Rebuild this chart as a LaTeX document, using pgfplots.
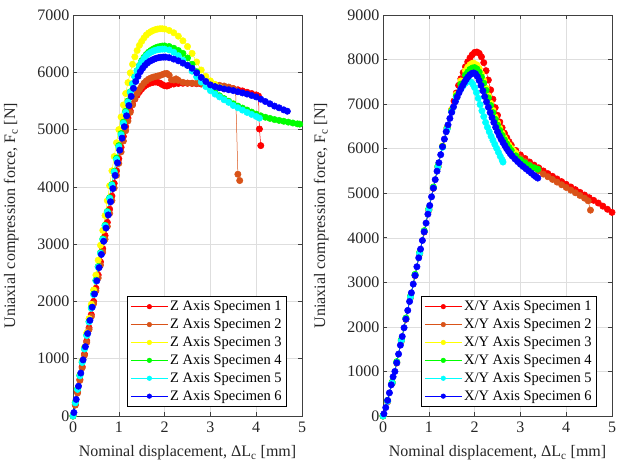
\documentclass[border=0pt]{standalone}
\usepackage{pgfplots}
\pgfplotsset{compat=1.18}
\usepackage{fontspec}
\setmainfont{Liberation Serif}
\definecolor{c1}{rgb}{1,0,0}
\definecolor{c2}{rgb}{0.85,0.325,0.098}
\definecolor{c3}{rgb}{1,1,0}
\definecolor{c4}{rgb}{0,1,0}
\definecolor{c5}{rgb}{0,1,1}
\definecolor{c6}{rgb}{0,0,1}
\definecolor{axcol}{rgb}{0.25,0.25,0.25}
\definecolor{gridcol}{rgb}{0.87,0.87,0.87}
\newcommand{\labfont}{\fontsize{16}{19}\selectfont}
\pgfplotsset{
  myaxis/.style={
    scale only axis, width=229pt, height=401pt,
    xmin=0, xmax=5, ymin=0,
    xtick={0,1,2,3,4,5},
    grid=major, major grid style={gridcol, line width=0.5pt},
    axis line style={axcol, line width=0.6pt},
    tick style={axcol, line width=0.6pt},
    tick align=inside, tick pos=both, major tick length=4pt,
    /pgf/number format/assume math mode=true,
    /pgf/number format/1000 sep={},
    ticklabel style={font=\fontsize{16}{19}\selectfont, text=black!85},
    xticklabel style={yshift=-2pt},
    xlabel={\labfont Nominal displacement, ΔL\textsubscript{c} [mm]},
    ylabel={\labfont Uniaxial compression force, F\textsubscript{c} [N]},
    x label style={at={(axis description cs:0.5,-0.102)}, anchor=base, font=\labfont, text=black!85},
    y label style={at={(axis description cs:-0.27,0.5)}, rotate=0, anchor=center, font=\labfont, text=black!85},
    legend style={at={(axis description cs:0.9345,0.0224)}, anchor=south east,
      draw=black, line width=0.6pt, fill=white, font=\fontsize{14.5}{17}\selectfont,
      inner sep=3pt, row sep=2.8pt},
    legend cell align=left,
    legend image code/.code={\draw[mark repeat=2,mark phase=2,mark size=2.3pt] plot coordinates {(0cm,0cm) (0.65cm,0cm) (1.3cm,0cm)};},
  },
  s1/.style={color=c1, line width=0.5pt, mark=*, mark size=3.2pt, mark options={solid, fill=c1, draw=c1}},
  s2/.style={color=c2, line width=0.5pt, mark=*, mark size=3.2pt, mark options={solid, fill=c2, draw=c2}},
  s3/.style={color=c3, line width=0.5pt, mark=*, mark size=3.2pt, mark options={solid, fill=c3, draw=c3}},
  s4/.style={color=c4, line width=0.5pt, mark=*, mark size=3.2pt, mark options={solid, fill=c4, draw=c4}},
  s5/.style={color=c5, line width=0.5pt, mark=*, mark size=3.2pt, mark options={solid, fill=c5, draw=c5}},
  s6/.style={color=c6, line width=0.5pt, mark=*, mark size=3.2pt, mark options={solid, fill=c6, draw=c6}},
}
\begin{document}
\begin{tikzpicture}
\useasboundingbox (0pt,0pt) rectangle (620pt,468pt);
% ---------------- Left panel: Z axis ----------------
\begin{axis}[myaxis, at={(73pt,52pt)}, anchor=south west, ymax=7000, ytick={0,1000,2000,3000,4000,5000,6000,7000}]
\addplot[s1] coordinates {(0,0) (0.05,200) (0.1,420) (0.15,640) (0.2,860) (0.25,1080) (0.3,1310) (0.35,1540) (0.4,1770) (0.45,2000) (0.5,2230) (0.55,2460) (0.6,2690) (0.65,2920) (0.7,3150) (0.75,3380) (0.8,3610) (0.85,3840) (0.9,4060) (0.95,4280) (1.0,4490) (1.05,4690) (1.1,4880) (1.15,5050) (1.2,5200) (1.25,5330) (1.3,5440) (1.35,5530) (1.4,5600) (1.45,5660) (1.5,5710) (1.55,5750) (1.6,5780) (1.65,5800) (1.7,5815) (1.75,5825) (1.8,5830) (1.85,5825) (1.9,5810) (1.95,5785) (2.0,5765) (2.05,5760) (2.1,5775) (2.2,5795) (2.3,5805) (2.4,5808) (2.5,5808) (2.6,5805) (2.7,5800) (2.8,5795) (2.9,5788) (3.0,5780) (3.1,5768) (3.2,5755) (3.3,5742) (3.4,5730) (3.5,5715) (3.6,5695) (3.7,5675) (3.8,5652) (3.9,5630) (4.0,5605) (4.05,5585) (4.07,5010) (4.1,4720)};
\addlegendentry{Z Axis Specimen 1}
\addplot[s2] coordinates {(0,0) (0.05,190) (0.1,400) (0.15,620) (0.2,840) (0.25,1060) (0.3,1285) (0.35,1510) (0.4,1735) (0.45,1960) (0.5,2185) (0.55,2410) (0.6,2635) (0.65,2860) (0.7,3085) (0.75,3310) (0.8,3535) (0.85,3760) (0.9,3980) (0.95,4200) (1.0,4410) (1.05,4610) (1.1,4800) (1.15,4980) (1.2,5150) (1.25,5300) (1.3,5430) (1.35,5540) (1.4,5630) (1.45,5700) (1.5,5760) (1.55,5810) (1.6,5850) (1.65,5880) (1.7,5900) (1.75,5915) (1.8,5925) (1.85,5935) (1.9,5945) (1.95,5960) (2.0,5975) (2.05,5980) (2.1,5950) (2.15,5870) (2.2,5865) (2.25,5885) (2.3,5860) (2.4,5825) (2.5,5812) (2.6,5810) (2.7,5808) (2.8,5804) (2.9,5798) (3.0,5790) (3.1,5782) (3.2,5772) (3.3,5760) (3.4,5742) (3.5,5715) (3.55,5690) (3.6,4220) (3.64,4110)};
\addlegendentry{Z Axis Specimen 2}
\addplot[s3] coordinates {(0,0) (0.05,240) (0.1,480) (0.15,720) (0.2,960) (0.25,1200) (0.3,1450) (0.35,1700) (0.4,1950) (0.45,2200) (0.5,2460) (0.55,2720) (0.6,2980) (0.65,3240) (0.7,3500) (0.75,3760) (0.8,4020) (0.85,4280) (0.9,4530) (0.95,4770) (1.0,5000) (1.05,5220) (1.1,5430) (1.15,5630) (1.2,5820) (1.25,5990) (1.3,6140) (1.35,6270) (1.4,6380) (1.45,6470) (1.5,6540) (1.55,6600) (1.6,6650) (1.65,6685) (1.7,6710) (1.75,6730) (1.8,6745) (1.85,6755) (1.9,6760) (1.95,6760) (2.0,6755) (2.1,6730) (2.2,6690) (2.3,6630) (2.4,6550) (2.5,6450) (2.6,6330) (2.7,6180) (2.8,6040) (2.9,5930) (3.0,5850) (3.1,5790) (3.2,5740) (3.3,5710)};
\addlegendentry{Z Axis Specimen 3}
\addplot[s4] coordinates {(0,0) (0.05,235) (0.1,470) (0.15,705) (0.2,940) (0.25,1175) (0.3,1410) (0.35,1650) (0.4,1890) (0.45,2130) (0.5,2370) (0.55,2610) (0.6,2850) (0.65,3090) (0.7,3330) (0.75,3570) (0.8,3810) (0.85,4040) (0.9,4270) (0.95,4500) (1.0,4720) (1.05,4930) (1.1,5130) (1.15,5320) (1.2,5500) (1.25,5660) (1.3,5800) (1.35,5920) (1.4,6030) (1.45,6120) (1.5,6200) (1.55,6260) (1.6,6310) (1.65,6350) (1.7,6380) (1.75,6405) (1.8,6425) (1.85,6440) (1.9,6450) (1.95,6458) (2.0,6460) (2.1,6450) (2.2,6420) (2.3,6380) (2.4,6330) (2.5,6250) (2.6,6140) (2.7,6010) (2.8,5900) (2.9,5800) (3.0,5720) (3.1,5650) (3.2,5590) (3.3,5540) (3.4,5495) (3.5,5450) (3.6,5410) (3.7,5375) (3.8,5340) (3.9,5305) (4.0,5270) (4.1,5240) (4.2,5215) (4.3,5195) (4.4,5175) (4.5,5160) (4.6,5145) (4.7,5130) (4.8,5115) (4.9,5100) (4.95,5095)};
\addlegendentry{Z Axis Specimen 4}
\addplot[s5] coordinates {(0,0) (0.05,230) (0.1,465) (0.15,700) (0.2,935) (0.25,1170) (0.3,1405) (0.35,1640) (0.4,1880) (0.45,2120) (0.5,2360) (0.55,2600) (0.6,2840) (0.65,3080) (0.7,3320) (0.75,3560) (0.8,3800) (0.85,4030) (0.9,4260) (0.95,4480) (1.0,4700) (1.05,4910) (1.1,5110) (1.15,5300) (1.2,5480) (1.25,5650) (1.3,5800) (1.35,5920) (1.4,6020) (1.45,6110) (1.5,6180) (1.55,6240) (1.6,6290) (1.65,6325) (1.7,6350) (1.75,6370) (1.8,6385) (1.85,6395) (1.9,6402) (1.95,6405) (2.0,6405) (2.1,6390) (2.2,6350) (2.3,6290) (2.4,6210) (2.5,6120) (2.6,6020) (2.7,5920) (2.8,5830) (2.9,5750) (3.0,5680) (3.1,5620) (3.2,5570) (3.3,5520) (3.4,5475) (3.5,5420) (3.6,5380) (3.7,5340) (3.8,5300) (3.9,5265) (4.0,5230) (4.07,5200)};
\addlegendentry{Z Axis Specimen 5}
\addplot[s6] coordinates {(0.02,60) (0.07,290) (0.12,520) (0.17,750) (0.22,980) (0.27,1210) (0.32,1440) (0.37,1670) (0.42,1900) (0.47,2130) (0.52,2360) (0.57,2590) (0.62,2820) (0.67,3050) (0.72,3280) (0.77,3510) (0.82,3740) (0.87,3970) (0.92,4200) (0.97,4420) (1.02,4640) (1.07,4850) (1.12,5050) (1.17,5240) (1.22,5420) (1.27,5580) (1.32,5720) (1.37,5840) (1.42,5930) (1.47,6010) (1.52,6070) (1.57,6120) (1.62,6160) (1.67,6190) (1.72,6210) (1.77,6230) (1.82,6245) (1.87,6255) (1.92,6262) (1.97,6265) (2.02,6265) (2.1,6255) (2.2,6230) (2.3,6200) (2.4,6160) (2.5,6120) (2.6,6070) (2.7,5990) (2.8,5910) (2.9,5840) (3.0,5780) (3.1,5750) (3.2,5730) (3.3,5710) (3.4,5695) (3.5,5680) (3.6,5660) (3.7,5640) (3.8,5620) (3.9,5595) (4.0,5570) (4.1,5530) (4.2,5490) (4.3,5450) (4.4,5410) (4.5,5380) (4.6,5345) (4.68,5320)};
\addlegendentry{Z Axis Specimen 6}
\end{axis}
% ---------------- Right panel: X/Y axis ----------------
\begin{axis}[myaxis, at={(383pt,52pt)}, anchor=south west, ymax=9000, ytick={0,1000,2000,3000,4000,5000,6000,7000,8000,9000}]
\addplot[s1] coordinates {(0,0) (0.1,320) (0.2,730) (0.3,1190) (0.4,1680) (0.5,2170) (0.6,2660) (0.7,3150) (0.8,3640) (0.9,4130) (1.0,4620) (1.1,5110) (1.2,5590) (1.3,6050) (1.4,6480) (1.5,6880) (1.55,7070) (1.6,7250) (1.65,7420) (1.7,7570) (1.75,7710) (1.8,7840) (1.85,7950) (1.9,8040) (1.95,8110) (2.0,8160) (2.05,8170) (2.1,8140) (2.15,8060) (2.2,7930) (2.25,7750) (2.3,7540) (2.35,7320) (2.4,7110) (2.45,6920) (2.5,6750) (2.55,6600) (2.6,6470) (2.65,6350) (2.7,6250) (2.75,6160) (2.8,6080) (2.9,5960) (3.0,5860) (3.1,5780) (3.2,5700) (3.3,5630) (3.4,5570) (3.5,5500) (3.6,5440) (3.7,5380) (3.8,5320) (3.9,5260) (4.0,5200) (4.1,5140) (4.2,5080) (4.3,5020) (4.4,4960) (4.5,4900) (4.6,4840) (4.7,4780) (4.8,4710) (4.9,4640) (5.0,4570)};
\addlegendentry{X/Y Axis Specimen 1}
\addplot[s2] coordinates {(0,0) (0.1,330) (0.2,740) (0.3,1200) (0.4,1690) (0.5,2180) (0.6,2670) (0.7,3160) (0.8,3650) (0.9,4140) (1.0,4630) (1.1,5120) (1.2,5590) (1.3,6040) (1.4,6450) (1.5,6840) (1.6,7170) (1.7,7450) (1.8,7670) (1.9,7810) (1.95,7850) (2.0,7860) (2.1,7700) (2.2,7400) (2.3,7050) (2.4,6750) (2.5,6480) (2.6,6280) (2.7,6120) (2.8,5990) (2.9,5880) (3.0,5790) (3.1,5710) (3.2,5640) (3.3,5570) (3.4,5500) (3.5,5430) (3.6,5370) (3.7,5310) (3.8,5250) (3.9,5190) (4.0,5130) (4.1,5070) (4.2,5010) (4.3,4950) (4.4,4890) (4.48,4830) (4.53,4620)};
\addlegendentry{X/Y Axis Specimen 2}
\addplot[s3] coordinates {(0,0) (0.1,340) (0.2,750) (0.3,1210) (0.4,1700) (0.5,2190) (0.6,2680) (0.7,3170) (0.8,3660) (0.9,4150) (1.0,4640) (1.1,5130) (1.2,5610) (1.3,6060) (1.4,6470) (1.5,6870) (1.6,7220) (1.7,7520) (1.8,7750) (1.85,7830) (1.9,7885) (1.95,7915) (1.98,7920) (2.05,7880) (2.1,7800) (2.15,7680) (2.2,7530) (2.25,7360) (2.3,7190) (2.35,7020) (2.4,6860) (2.45,6710) (2.5,6580) (2.55,6460) (2.6,6350) (2.65,6250) (2.7,6160) (2.75,6080) (2.8,6010) (2.85,5950) (2.9,5900)};
\addlegendentry{X/Y Axis Specimen 3}
\addplot[s4] coordinates {(0,0) (0.1,350) (0.2,760) (0.3,1220) (0.4,1710) (0.5,2200) (0.6,2690) (0.7,3180) (0.8,3670) (0.9,4160) (1.0,4650) (1.1,5140) (1.2,5610) (1.3,6050) (1.4,6460) (1.5,6850) (1.6,7180) (1.7,7450) (1.8,7650) (1.85,7720) (1.9,7780) (1.95,7810) (2.0,7820) (2.05,7790) (2.1,7720) (2.15,7610) (2.2,7470) (2.25,7310) (2.3,7140) (2.35,6970) (2.4,6810) (2.45,6660) (2.5,6530) (2.55,6410) (2.6,6300) (2.65,6200) (2.7,6110) (2.75,6030) (2.8,5960) (2.9,5840) (3.0,5750) (3.1,5680) (3.2,5620) (3.3,5570) (3.38,5540)};
\addlegendentry{X/Y Axis Specimen 4}
\addplot[s5] coordinates {(0,0) (0.1,330) (0.2,740) (0.3,1200) (0.4,1690) (0.5,2180) (0.6,2670) (0.7,3160) (0.8,3650) (0.9,4140) (1.0,4630) (1.1,5120) (1.2,5590) (1.3,6030) (1.4,6440) (1.5,6830) (1.6,7130) (1.7,7340) (1.75,7410) (1.8,7470) (1.87,7520) (1.92,7500) (1.96,7450) (2.0,7370) (2.04,7260) (2.08,7130) (2.12,6990) (2.16,6850) (2.2,6720) (2.24,6590) (2.28,6480) (2.32,6380) (2.36,6280) (2.4,6190) (2.44,6100) (2.48,6010) (2.52,5920) (2.56,5830) (2.6,5750) (2.62,5700)};
\addlegendentry{X/Y Axis Specimen 5}
\addplot[s6] coordinates {(0.02,50) (0.06,190) (0.1,350) (0.14,520) (0.18,700) (0.22,880) (0.26,1000) (0.3,1195) (0.34,1390) (0.38,1590) (0.42,1785) (0.46,1980) (0.5,2175) (0.54,2370) (0.58,2570) (0.62,2765) (0.66,2960) (0.7,3155) (0.74,3350) (0.78,3550) (0.82,3745) (0.86,3940) (0.9,4135) (0.94,4330) (0.98,4530) (1.02,4725) (1.06,4920) (1.1,5115) (1.14,5305) (1.18,5495) (1.22,5685) (1.26,5865) (1.3,6045) (1.34,6215) (1.38,6380) (1.42,6535) (1.46,6680) (1.5,6815) (1.54,6940) (1.58,7055) (1.62,7160) (1.66,7255) (1.7,7340) (1.74,7420) (1.78,7495) (1.82,7560) (1.86,7615) (1.9,7660) (1.94,7690) (1.98,7700) (2.02,7680) (2.06,7620) (2.1,7530) (2.14,7420) (2.18,7300) (2.22,7170) (2.26,7050) (2.3,6930) (2.34,6810) (2.38,6700) (2.42,6590) (2.46,6480) (2.5,6380) (2.54,6290) (2.58,6210) (2.62,6140) (2.66,6070) (2.7,6000) (2.74,5940) (2.78,5885) (2.82,5835) (2.88,5770) (2.94,5710) (3.0,5650) (3.06,5600) (3.12,5550) (3.18,5500) (3.24,5450) (3.3,5400) (3.34,5370) (3.38,5340)};
\addlegendentry{X/Y Axis Specimen 6}
\end{axis}
\end{tikzpicture}
\end{document}
